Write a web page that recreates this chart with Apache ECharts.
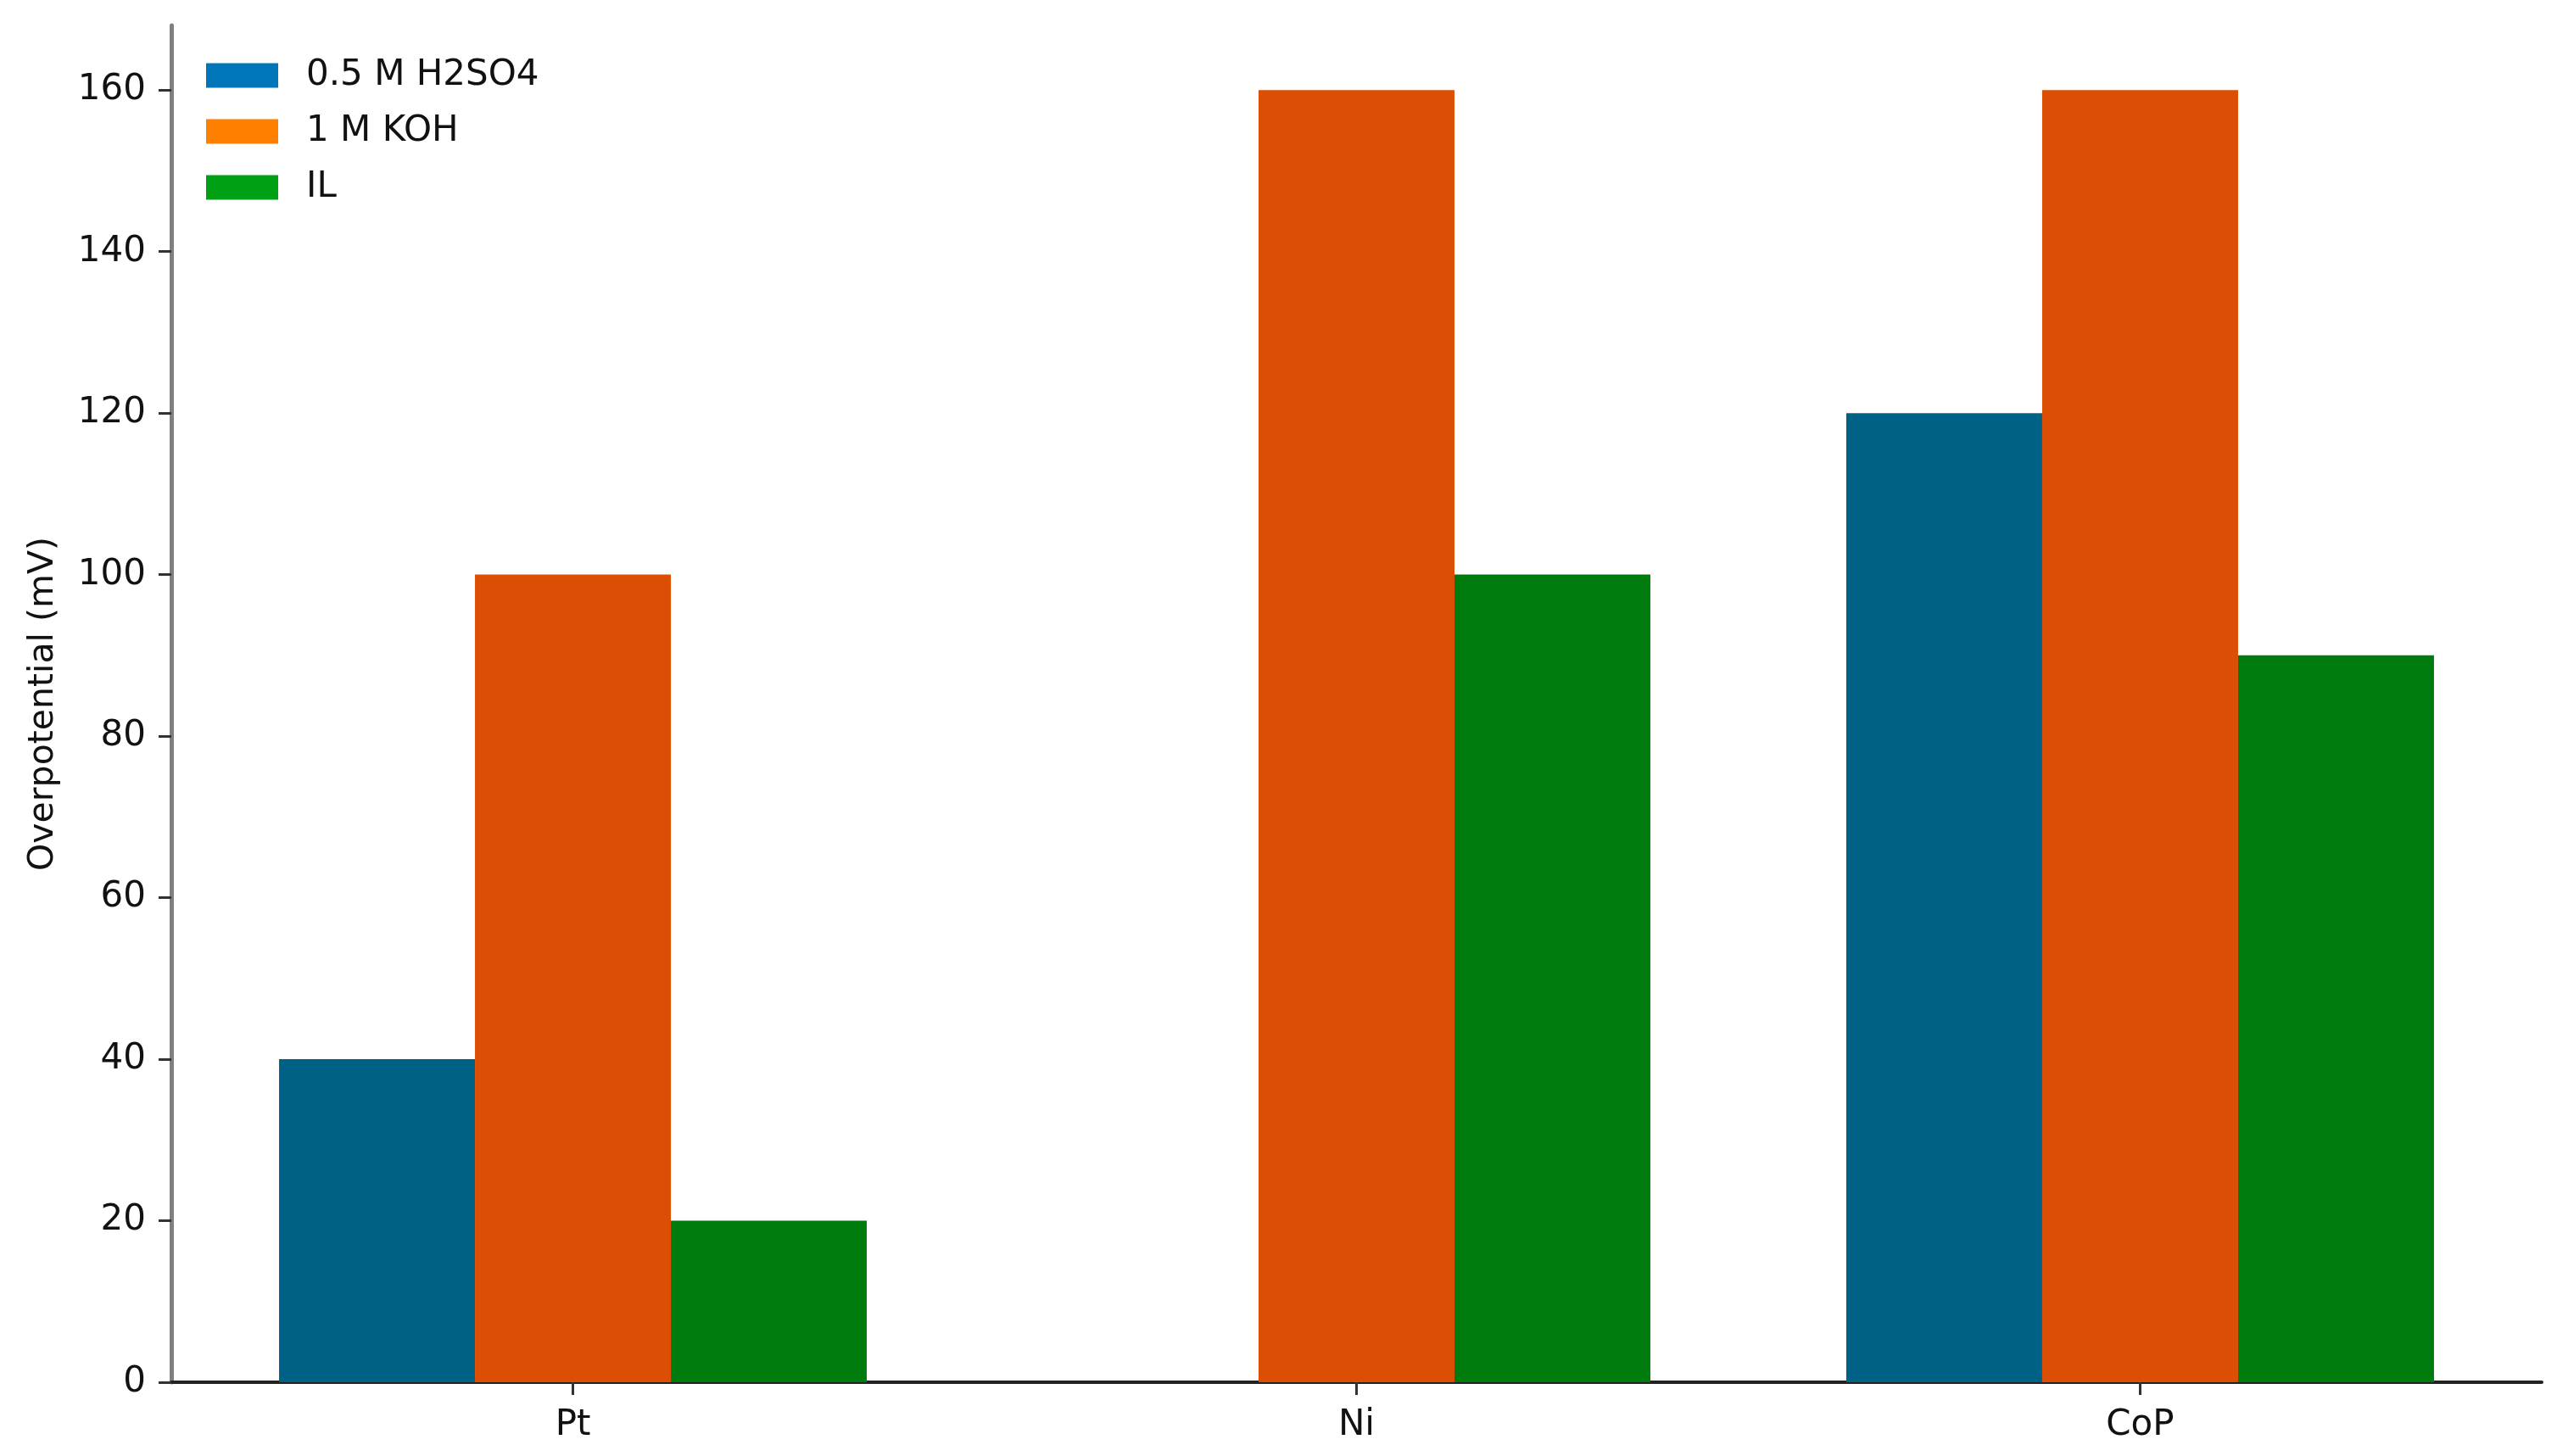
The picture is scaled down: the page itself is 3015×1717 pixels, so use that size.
<!DOCTYPE html>
<html>
<head>
<meta charset="utf-8">
<script src="https://cdn.jsdelivr.net/npm/echarts@6/dist/echarts.min.js"></script>
<style>
  html, body { margin: 0; padding: 0; background: #ffffff; }
  #chart { width: 3015px; height: 1717px; }
</style>
</head>
<body>
<div id="chart"></div>
<script>
// ---- data ----
const categories = ['Pt', 'Ni', 'CoP'];
const seriesNames = ['0.5 M H2SO4', '1 M KOH', 'IL'];
const h2so4Values = [40, 0, 120];
const kohValues = [100, 160, 160];
const ilValues = [20, 100, 90];
const yTickValues = [0, 20, 40, 60, 80, 100, 120, 140, 160];
const yAxisTitle = 'Overpotential (mV)';

// ---- styles ----
const barColors = ['#006186', '#dc4e04', '#007c0e'];
const legendColors = ['#0075b7', '#ff7f00', '#00a014'];
const FONT = 'DejaVu Sans';

const categoryPositions = categories.map((c, i) => i);
const allValues = [h2so4Values, kohValues, ilValues];

const chart = echarts.init(document.getElementById('chart'), null, { renderer: 'canvas' });

const series = seriesNames.map((name, s) => ({
  name: name,
  type: 'bar',
  data: allValues[s].map((v, i) => [categoryPositions[i], v]),
  barWidth: '25%',
  barGap: '0%',
  itemStyle: { color: barColors[s] },
  emphasis: { disabled: true }
}));

chart.setOption({
  animation: false,
  backgroundColor: '#ffffff',
  grid: { left: 202, right: 18, top: 30, bottom: 87 },
  legend: {
    left: 238,
    top: 63,
    orient: 'vertical',
    icon: 'rect',
    itemWidth: 85,
    itemHeight: 29,
    itemGap: 24,
    textStyle: { fontFamily: FONT, fontSize: 42, color: '#111111', lineHeight: 40, padding: [0, 0, 0, 28] },
    data: seriesNames.map((n, i) => ({ name: n, itemStyle: { color: legendColors[i] } }))
  },
  xAxis: {
    type: 'value',
    min: -0.5125,
    max: 2.5125,
    splitLine: { show: false },
    axisLine: { show: true, onZero: false, lineStyle: { color: '#222222', width: 4 } },
    axisTick: { show: true, customValues: categoryPositions, length: 15, lineStyle: { color: '#333333', width: 3 } },
    axisLabel: {
      customValues: categoryPositions,
      formatter: (v) => categories[Math.round(v)] || '',
      fontFamily: FONT, fontSize: 42, color: '#111111', margin: 30
    }
  },
  yAxis: {
    type: 'value',
    min: 0,
    max: 168,
    splitLine: { show: false },
    name: yAxisTitle,
    nameLocation: 'middle',
    nameGap: 130,
    nameTextStyle: { fontFamily: FONT, fontSize: 41, color: '#111111' },
    axisLine: { show: true, onZero: false, lineStyle: { color: '#808080', width: 5 } },
    axisTick: { show: true, customValues: yTickValues, length: 15, lineStyle: { color: '#333333', width: 3 } },
    axisLabel: {
      customValues: yTickValues,
      fontFamily: FONT, fontSize: 42, color: '#111111', margin: 30
    }
  },
  series: series
});
</script>
</body>
</html>
